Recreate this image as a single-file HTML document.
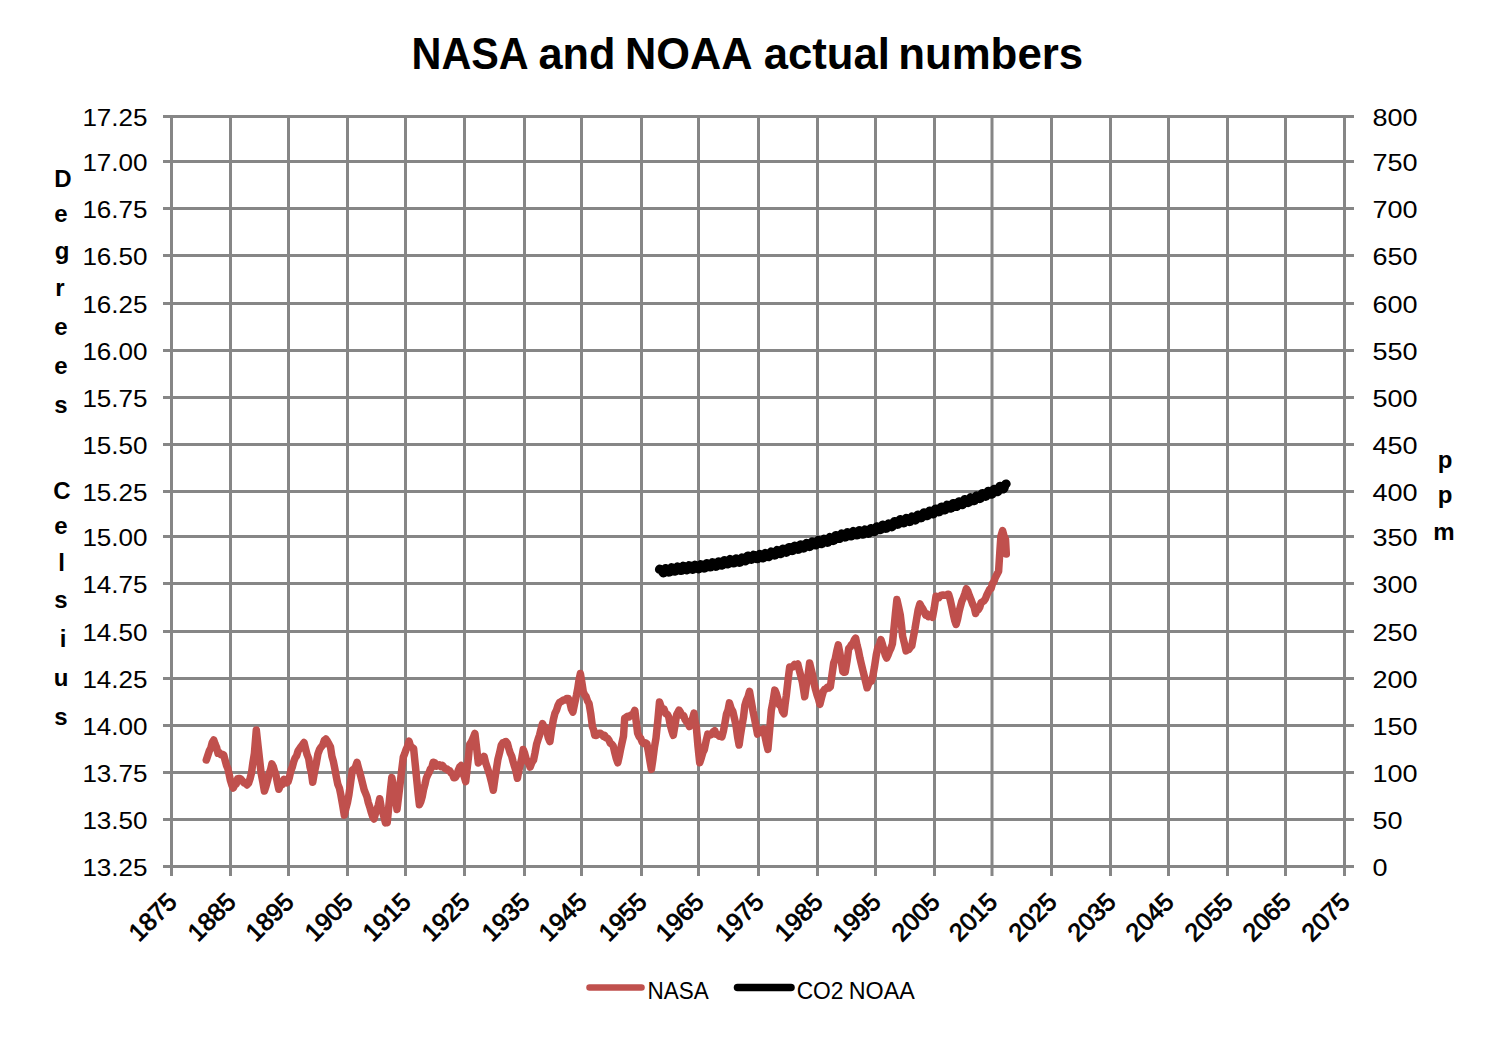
<!DOCTYPE html><html><head><meta charset="utf-8"><style>html,body{margin:0;padding:0;background:#fff;width:1508px;height:1044px;overflow:hidden;position:relative}</style></head><body><svg width="1508" height="1044" viewBox="0 0 1508 1044" style="position:absolute;left:0;top:0"><path d="M163 116.5H1354M163 161.5H1354M163 208.5H1354M163 255.5H1354M163 303.5H1354M163 350.5H1354M163 397.5H1354M163 444.5H1354M163 491.5H1354M163 536.5H1354M163 583.5H1354M163 631.5H1354M163 678.5H1354M163 725.5H1354M163 772.5H1354M163 819.5H1354M163 866.5H1354M171.5 115V876M230.5 115V876M288.5 115V876M347.5 115V876M405.5 115V876M464.5 115V876M524.5 115V876M581.5 115V876M641.5 115V876M698.5 115V876M758.5 115V876M817.5 115V876M875.5 115V876M934.5 115V876M992 115V876M1051.5 115V876M1110.5 115V876M1168.5 115V876M1227.5 115V876M1285.5 115V876M1344.5 115V876" stroke="#868686" stroke-width="3" fill="none"/><text transform="translate(411.51,68.8) scale(0.9177,1)" font-family="Liberation Sans, sans-serif" font-weight="bold" font-size="45.1" fill="#000">NASA</text><text transform="translate(538.40,68.8) scale(0.9594,1)" font-family="Liberation Sans, sans-serif" font-weight="bold" font-size="45.1" fill="#000">and</text><text transform="translate(625.08,68.8) scale(0.9608,1)" font-family="Liberation Sans, sans-serif" font-weight="bold" font-size="45.1" fill="#000">NOAA</text><text transform="translate(763.69,68.8) scale(0.9680,1)" font-family="Liberation Sans, sans-serif" font-weight="bold" font-size="45.1" fill="#000">actual</text><text transform="translate(898.15,68.8) scale(0.9715,1)" font-family="Liberation Sans, sans-serif" font-weight="bold" font-size="45.1" fill="#000">numbers</text><text transform="translate(147.5,125.5) scale(1.05,1)" text-anchor="end" font-family="Liberation Sans, sans-serif" font-size="24.8" fill="#000">17.25</text><text transform="translate(147.5,170.5) scale(1.05,1)" text-anchor="end" font-family="Liberation Sans, sans-serif" font-size="24.8" fill="#000">17.00</text><text transform="translate(147.5,217.5) scale(1.05,1)" text-anchor="end" font-family="Liberation Sans, sans-serif" font-size="24.8" fill="#000">16.75</text><text transform="translate(147.5,264.5) scale(1.05,1)" text-anchor="end" font-family="Liberation Sans, sans-serif" font-size="24.8" fill="#000">16.50</text><text transform="translate(147.5,312.5) scale(1.05,1)" text-anchor="end" font-family="Liberation Sans, sans-serif" font-size="24.8" fill="#000">16.25</text><text transform="translate(147.5,359.5) scale(1.05,1)" text-anchor="end" font-family="Liberation Sans, sans-serif" font-size="24.8" fill="#000">16.00</text><text transform="translate(147.5,406.5) scale(1.05,1)" text-anchor="end" font-family="Liberation Sans, sans-serif" font-size="24.8" fill="#000">15.75</text><text transform="translate(147.5,453.5) scale(1.05,1)" text-anchor="end" font-family="Liberation Sans, sans-serif" font-size="24.8" fill="#000">15.50</text><text transform="translate(147.5,500.5) scale(1.05,1)" text-anchor="end" font-family="Liberation Sans, sans-serif" font-size="24.8" fill="#000">15.25</text><text transform="translate(147.5,545.5) scale(1.05,1)" text-anchor="end" font-family="Liberation Sans, sans-serif" font-size="24.8" fill="#000">15.00</text><text transform="translate(147.5,592.5) scale(1.05,1)" text-anchor="end" font-family="Liberation Sans, sans-serif" font-size="24.8" fill="#000">14.75</text><text transform="translate(147.5,640.5) scale(1.05,1)" text-anchor="end" font-family="Liberation Sans, sans-serif" font-size="24.8" fill="#000">14.50</text><text transform="translate(147.5,687.5) scale(1.05,1)" text-anchor="end" font-family="Liberation Sans, sans-serif" font-size="24.8" fill="#000">14.25</text><text transform="translate(147.5,734.5) scale(1.05,1)" text-anchor="end" font-family="Liberation Sans, sans-serif" font-size="24.8" fill="#000">14.00</text><text transform="translate(147.5,781.5) scale(1.05,1)" text-anchor="end" font-family="Liberation Sans, sans-serif" font-size="24.8" fill="#000">13.75</text><text transform="translate(147.5,828.5) scale(1.05,1)" text-anchor="end" font-family="Liberation Sans, sans-serif" font-size="24.8" fill="#000">13.50</text><text transform="translate(147.5,875.5) scale(1.05,1)" text-anchor="end" font-family="Liberation Sans, sans-serif" font-size="24.8" fill="#000">13.25</text><text transform="translate(1372.5,125.5) scale(1.09,1)" font-family="Liberation Sans, sans-serif" font-size="24.8" fill="#000">800</text><text transform="translate(1372.5,170.5) scale(1.09,1)" font-family="Liberation Sans, sans-serif" font-size="24.8" fill="#000">750</text><text transform="translate(1372.5,217.5) scale(1.09,1)" font-family="Liberation Sans, sans-serif" font-size="24.8" fill="#000">700</text><text transform="translate(1372.5,264.5) scale(1.09,1)" font-family="Liberation Sans, sans-serif" font-size="24.8" fill="#000">650</text><text transform="translate(1372.5,312.5) scale(1.09,1)" font-family="Liberation Sans, sans-serif" font-size="24.8" fill="#000">600</text><text transform="translate(1372.5,359.5) scale(1.09,1)" font-family="Liberation Sans, sans-serif" font-size="24.8" fill="#000">550</text><text transform="translate(1372.5,406.5) scale(1.09,1)" font-family="Liberation Sans, sans-serif" font-size="24.8" fill="#000">500</text><text transform="translate(1372.5,453.5) scale(1.09,1)" font-family="Liberation Sans, sans-serif" font-size="24.8" fill="#000">450</text><text transform="translate(1372.5,500.5) scale(1.09,1)" font-family="Liberation Sans, sans-serif" font-size="24.8" fill="#000">400</text><text transform="translate(1372.5,545.5) scale(1.09,1)" font-family="Liberation Sans, sans-serif" font-size="24.8" fill="#000">350</text><text transform="translate(1372.5,592.5) scale(1.09,1)" font-family="Liberation Sans, sans-serif" font-size="24.8" fill="#000">300</text><text transform="translate(1372.5,640.5) scale(1.09,1)" font-family="Liberation Sans, sans-serif" font-size="24.8" fill="#000">250</text><text transform="translate(1372.5,687.5) scale(1.09,1)" font-family="Liberation Sans, sans-serif" font-size="24.8" fill="#000">200</text><text transform="translate(1372.5,734.5) scale(1.09,1)" font-family="Liberation Sans, sans-serif" font-size="24.8" fill="#000">150</text><text transform="translate(1372.5,781.5) scale(1.09,1)" font-family="Liberation Sans, sans-serif" font-size="24.8" fill="#000">100</text><text transform="translate(1372.5,828.5) scale(1.09,1)" font-family="Liberation Sans, sans-serif" font-size="24.8" fill="#000">50</text><text transform="translate(1372.5,875.5) scale(1.09,1)" font-family="Liberation Sans, sans-serif" font-size="24.8" fill="#000">0</text><text transform="translate(178.4,903.3) rotate(-45)" x="0" y="0" text-anchor="end" font-family="Liberation Sans, sans-serif" font-size="25.0" fill="#000" stroke="#000" stroke-width="0.8">1875</text><text transform="translate(237.4,903.3) rotate(-45)" x="0" y="0" text-anchor="end" font-family="Liberation Sans, sans-serif" font-size="25.0" fill="#000" stroke="#000" stroke-width="0.8">1885</text><text transform="translate(295.4,903.3) rotate(-45)" x="0" y="0" text-anchor="end" font-family="Liberation Sans, sans-serif" font-size="25.0" fill="#000" stroke="#000" stroke-width="0.8">1895</text><text transform="translate(354.4,903.3) rotate(-45)" x="0" y="0" text-anchor="end" font-family="Liberation Sans, sans-serif" font-size="25.0" fill="#000" stroke="#000" stroke-width="0.8">1905</text><text transform="translate(412.4,903.3) rotate(-45)" x="0" y="0" text-anchor="end" font-family="Liberation Sans, sans-serif" font-size="25.0" fill="#000" stroke="#000" stroke-width="0.8">1915</text><text transform="translate(471.4,903.3) rotate(-45)" x="0" y="0" text-anchor="end" font-family="Liberation Sans, sans-serif" font-size="25.0" fill="#000" stroke="#000" stroke-width="0.8">1925</text><text transform="translate(531.4,903.3) rotate(-45)" x="0" y="0" text-anchor="end" font-family="Liberation Sans, sans-serif" font-size="25.0" fill="#000" stroke="#000" stroke-width="0.8">1935</text><text transform="translate(588.4,903.3) rotate(-45)" x="0" y="0" text-anchor="end" font-family="Liberation Sans, sans-serif" font-size="25.0" fill="#000" stroke="#000" stroke-width="0.8">1945</text><text transform="translate(648.4,903.3) rotate(-45)" x="0" y="0" text-anchor="end" font-family="Liberation Sans, sans-serif" font-size="25.0" fill="#000" stroke="#000" stroke-width="0.8">1955</text><text transform="translate(705.4,903.3) rotate(-45)" x="0" y="0" text-anchor="end" font-family="Liberation Sans, sans-serif" font-size="25.0" fill="#000" stroke="#000" stroke-width="0.8">1965</text><text transform="translate(765.4,903.3) rotate(-45)" x="0" y="0" text-anchor="end" font-family="Liberation Sans, sans-serif" font-size="25.0" fill="#000" stroke="#000" stroke-width="0.8">1975</text><text transform="translate(824.4,903.3) rotate(-45)" x="0" y="0" text-anchor="end" font-family="Liberation Sans, sans-serif" font-size="25.0" fill="#000" stroke="#000" stroke-width="0.8">1985</text><text transform="translate(882.4,903.3) rotate(-45)" x="0" y="0" text-anchor="end" font-family="Liberation Sans, sans-serif" font-size="25.0" fill="#000" stroke="#000" stroke-width="0.8">1995</text><text transform="translate(941.4,903.3) rotate(-45)" x="0" y="0" text-anchor="end" font-family="Liberation Sans, sans-serif" font-size="25.0" fill="#000" stroke="#000" stroke-width="0.8">2005</text><text transform="translate(998.9,903.3) rotate(-45)" x="0" y="0" text-anchor="end" font-family="Liberation Sans, sans-serif" font-size="25.0" fill="#000" stroke="#000" stroke-width="0.8">2015</text><text transform="translate(1058.4,903.3) rotate(-45)" x="0" y="0" text-anchor="end" font-family="Liberation Sans, sans-serif" font-size="25.0" fill="#000" stroke="#000" stroke-width="0.8">2025</text><text transform="translate(1117.4,903.3) rotate(-45)" x="0" y="0" text-anchor="end" font-family="Liberation Sans, sans-serif" font-size="25.0" fill="#000" stroke="#000" stroke-width="0.8">2035</text><text transform="translate(1175.4,903.3) rotate(-45)" x="0" y="0" text-anchor="end" font-family="Liberation Sans, sans-serif" font-size="25.0" fill="#000" stroke="#000" stroke-width="0.8">2045</text><text transform="translate(1234.4,903.3) rotate(-45)" x="0" y="0" text-anchor="end" font-family="Liberation Sans, sans-serif" font-size="25.0" fill="#000" stroke="#000" stroke-width="0.8">2055</text><text transform="translate(1292.4,903.3) rotate(-45)" x="0" y="0" text-anchor="end" font-family="Liberation Sans, sans-serif" font-size="25.0" fill="#000" stroke="#000" stroke-width="0.8">2065</text><text transform="translate(1351.4,903.3) rotate(-45)" x="0" y="0" text-anchor="end" font-family="Liberation Sans, sans-serif" font-size="25.0" fill="#000" stroke="#000" stroke-width="0.8">2075</text><text x="63" y="186.8" text-anchor="middle" font-family="Liberation Sans, sans-serif" font-weight="bold" font-size="24" fill="#000">D</text><text x="61" y="221.6" text-anchor="middle" font-family="Liberation Sans, sans-serif" font-weight="bold" font-size="24" fill="#000">e</text><text x="62" y="258.5" text-anchor="middle" font-family="Liberation Sans, sans-serif" font-weight="bold" font-size="24" fill="#000">g</text><text x="60" y="295.8" text-anchor="middle" font-family="Liberation Sans, sans-serif" font-weight="bold" font-size="24" fill="#000">r</text><text x="61" y="334.7" text-anchor="middle" font-family="Liberation Sans, sans-serif" font-weight="bold" font-size="24" fill="#000">e</text><text x="61" y="373.9" text-anchor="middle" font-family="Liberation Sans, sans-serif" font-weight="bold" font-size="24" fill="#000">e</text><text x="61" y="413.2" text-anchor="middle" font-family="Liberation Sans, sans-serif" font-weight="bold" font-size="24" fill="#000">s</text><text x="62" y="498.9" text-anchor="middle" font-family="Liberation Sans, sans-serif" font-weight="bold" font-size="24" fill="#000">C</text><text x="61" y="533.9" text-anchor="middle" font-family="Liberation Sans, sans-serif" font-weight="bold" font-size="24" fill="#000">e</text><text x="61.5" y="570.7" text-anchor="middle" font-family="Liberation Sans, sans-serif" font-weight="bold" font-size="24" fill="#000">l</text><text x="61" y="608.2" text-anchor="middle" font-family="Liberation Sans, sans-serif" font-weight="bold" font-size="24" fill="#000">s</text><text x="63" y="646.7" text-anchor="middle" font-family="Liberation Sans, sans-serif" font-weight="bold" font-size="24" fill="#000">i</text><text x="61" y="685.6" text-anchor="middle" font-family="Liberation Sans, sans-serif" font-weight="bold" font-size="24" fill="#000">u</text><text x="61" y="725.2" text-anchor="middle" font-family="Liberation Sans, sans-serif" font-weight="bold" font-size="24" fill="#000">s</text><text x="1445" y="468.3" text-anchor="middle" font-family="Liberation Sans, sans-serif" font-weight="bold" font-size="24" fill="#000">p</text><text x="1445" y="503" text-anchor="middle" font-family="Liberation Sans, sans-serif" font-weight="bold" font-size="24" fill="#000">p</text><text x="1444" y="540.2" text-anchor="middle" font-family="Liberation Sans, sans-serif" font-weight="bold" font-size="24" fill="#000">m</text><path d="M589.5 987.5H641.5" stroke="#C0504D" stroke-width="6.5" stroke-linecap="round"/><path d="M737.5 987.5H791" stroke="#000" stroke-width="7.5" stroke-linecap="round"/><text transform="translate(647.44,998.6) scale(0.9463,1)" font-family="Liberation Sans, sans-serif" font-size="23.8" fill="#000">NASA</text><text transform="translate(796.66,998.6) scale(0.9585,1)" font-family="Liberation Sans, sans-serif" font-size="23.8" fill="#000">CO2</text><text transform="translate(848.78,998.6) scale(0.9794,1)" font-family="Liberation Sans, sans-serif" font-size="23.8" fill="#000">NOAA</text><path d="M206.3 760.0 L207.8 755.5 L209.3 750.9 L210.7 748.4 L212.2 742.6 L213.7 740.0 L215.1 744.0 L216.6 747.5 L218.0 753.3 L219.4 752.6 L220.8 754.6 L222.3 754.2 L223.7 755.0 L225.1 760.3 L226.6 765.8 L227.9 768.7 L229.1 774.1 L230.4 780.4 L231.9 785.2 L233.3 788.0 L234.7 784.9 L236.2 784.0 L237.6 778.6 L239.0 778.4 L240.6 778.9 L242.3 780.7 L243.9 782.9 L245.5 783.4 L247.0 784.9 L248.6 783.0 L250.1 778.5 L251.5 772.9 L252.9 762.5 L254.4 753.4 L256.3 730.0 L258.2 747.2 L259.6 759.6 L261.1 773.0 L262.8 781.8 L264.4 791.0 L266.1 785.8 L267.9 779.3 L269.2 773.4 L270.6 769.5 L271.9 763.9 L273.2 766.4 L274.6 771.2 L275.9 774.9 L277.4 782.8 L278.8 789.3 L280.5 785.3 L282.3 784.6 L284.0 779.4 L285.3 781.0 L286.7 782.8 L288.0 781.8 L289.4 777.3 L290.9 770.5 L292.3 767.0 L293.7 761.8 L295.1 758.0 L296.6 755.8 L298.1 750.9 L299.5 748.9 L301.0 746.7 L302.5 744.7 L304.0 742.5 L305.6 749.0 L307.1 754.7 L308.7 758.6 L310.0 766.9 L311.4 772.7 L312.7 782.3 L314.4 772.6 L316.2 764.0 L317.9 754.0 L319.5 749.6 L321.1 747.1 L322.7 745.2 L324.3 740.4 L325.9 739.0 L327.4 741.2 L329.0 744.1 L330.5 747.0 L331.9 756.3 L333.4 761.6 L334.9 769.1 L336.3 776.8 L337.8 784.3 L339.4 788.1 L340.9 795.3 L342.6 804.8 L344.3 815.1 L345.8 808.7 L347.4 802.7 L348.9 794.8 L350.6 782.6 L352.4 769.8 L353.9 769.1 L355.5 767.0 L357.0 762.3 L358.4 767.6 L359.9 773.1 L361.3 778.3 L362.8 784.4 L364.2 790.0 L365.6 793.4 L367.0 797.0 L368.3 802.6 L369.7 806.8 L371.1 811.8 L372.6 816.4 L374.0 819.0 L375.4 813.8 L376.9 809.6 L378.3 805.1 L379.7 798.7 L381.1 806.7 L382.6 811.8 L384.1 817.6 L385.5 822.9 L387.2 822.7 L388.7 807.4 L390.3 791.1 L391.8 777.4 L393.5 786.8 L395.3 798.0 L397.0 809.5 L398.6 796.5 L400.1 784.1 L401.7 770.3 L403.3 757.2 L404.7 753.6 L406.1 749.5 L407.6 746.2 L409.0 741.2 L410.5 746.0 L412.1 747.5 L413.6 748.4 L415.4 766.0 L417.1 783.5 L418.2 794.5 L419.4 804.7 L420.8 801.6 L422.2 796.7 L423.5 789.9 L424.9 784.6 L426.3 778.2 L427.7 775.0 L429.1 772.5 L430.4 769.0 L431.8 767.5 L433.2 762.3 L434.7 762.6 L436.3 766.2 L437.8 765.7 L439.3 764.9 L440.9 766.5 L442.4 765.4 L443.9 767.3 L445.5 769.0 L447.0 769.1 L448.4 770.4 L449.8 770.9 L451.1 773.0 L452.5 774.2 L453.9 777.8 L455.3 777.5 L456.8 775.1 L458.2 770.5 L459.7 767.0 L461.1 765.6 L462.6 771.5 L464.2 776.5 L465.7 781.7 L467.0 769.9 L468.4 757.8 L469.7 744.4 L471.4 741.8 L473.2 737.8 L474.9 733.4 L476.6 747.8 L478.3 762.9 L479.8 761.2 L481.2 760.7 L482.7 759.8 L484.1 756.5 L485.6 762.6 L487.2 767.4 L488.7 771.9 L490.2 777.0 L491.8 783.4 L493.3 790.3 L494.8 779.5 L496.4 768.8 L497.9 759.4 L499.6 752.7 L501.3 745.0 L502.8 742.8 L504.4 742.2 L505.9 741.5 L507.3 743.1 L508.8 748.5 L510.2 753.0 L511.7 756.3 L513.1 761.7 L514.5 766.4 L516.0 771.0 L517.4 778.3 L518.9 770.0 L520.3 764.5 L521.8 758.1 L523.2 749.5 L524.6 753.2 L526.0 758.5 L527.3 761.5 L528.7 763.5 L530.1 767.1 L531.8 762.6 L533.5 760.2 L535.0 753.0 L536.6 744.1 L538.1 739.3 L539.6 735.0 L541.0 729.2 L542.5 723.6 L543.8 726.4 L545.2 727.5 L546.5 729.4 L548.2 737.5 L549.9 741.6 L551.6 729.8 L553.4 719.5 L554.9 713.4 L556.5 710.1 L558.0 705.4 L559.4 702.6 L560.8 701.8 L562.1 701.0 L563.5 699.9 L564.9 700.1 L566.6 698.5 L568.3 698.5 L569.8 702.2 L571.4 709.1 L572.9 712.1 L574.6 703.7 L576.4 695.5 L577.7 688.7 L579.1 679.6 L580.4 673.5 L581.8 682.0 L583.3 691.9 L584.7 695.0 L586.1 696.7 L587.6 701.1 L589.0 703.4 L590.8 713.9 L592.5 727.2 L593.6 729.9 L594.8 735.4 L596.2 735.6 L597.6 734.5 L599.1 733.3 L600.5 733.3 L601.9 734.5 L603.3 736.3 L604.6 735.4 L606.0 737.9 L607.4 738.1 L608.9 740.0 L610.3 743.2 L611.8 744.1 L613.2 746.0 L614.7 752.3 L616.3 758.5 L617.8 762.8 L619.2 756.5 L620.6 749.3 L622.1 742.4 L623.5 736.1 L624.7 718.1 L626.1 717.4 L627.5 716.4 L629.0 717.0 L630.4 715.4 L631.9 714.7 L633.3 713.6 L634.8 710.3 L636.2 721.5 L637.6 733.0 L639.1 736.6 L640.7 738.3 L642.2 742.1 L643.7 743.4 L645.3 742.7 L646.8 743.6 L648.3 751.2 L649.9 761.0 L651.4 769.4 L652.9 759.4 L654.5 746.8 L656.0 738.1 L657.8 720.7 L659.5 701.9 L661.0 706.4 L662.6 709.0 L664.1 709.1 L665.6 713.6 L667.2 714.2 L668.7 716.8 L670.2 724.8 L671.8 730.8 L673.3 735.3 L675.0 725.2 L676.7 714.5 L677.9 712.3 L679.0 710.1 L680.5 712.4 L682.1 715.5 L683.6 715.4 L685.0 719.5 L686.5 721.8 L688.0 723.1 L689.4 726.6 L690.9 723.3 L692.5 718.7 L694.0 713.2 L695.1 721.7 L696.3 726.9 L698.0 746.4 L699.7 762.7 L701.2 758.2 L702.8 752.6 L704.3 749.8 L706.0 741.4 L707.8 734.1 L709.2 734.3 L710.6 735.0 L711.9 734.1 L713.3 731.7 L714.7 730.6 L716.1 734.3 L717.6 734.5 L719.0 736.2 L720.5 735.7 L721.9 736.9 L723.4 731.1 L725.0 722.6 L726.5 713.9 L728.0 710.2 L729.4 702.9 L731.1 708.4 L732.8 711.3 L734.5 718.6 L736.0 725.4 L737.6 737.0 L739.1 745.0 L740.5 734.8 L742.0 725.7 L743.5 717.1 L744.9 705.3 L746.4 700.3 L748.0 696.9 L749.5 691.4 L751.2 700.8 L752.9 710.7 L754.4 718.0 L756.0 726.1 L757.5 734.1 L759.0 732.7 L760.4 732.6 L761.8 729.8 L763.3 729.0 L764.8 735.3 L766.4 743.1 L767.9 749.4 L769.6 730.5 L771.3 710.2 L773.0 701.5 L774.8 690.1 L776.3 693.6 L777.9 699.0 L779.4 705.0 L780.9 706.0 L782.5 711.5 L784.0 713.8 L785.1 704.2 L786.3 695.5 L788.0 680.4 L789.7 666.9 L791.3 666.8 L792.9 666.9 L794.6 664.3 L796.2 665.1 L797.8 664.0 L799.3 670.3 L800.9 676.2 L802.4 682.5 L803.5 689.1 L804.7 696.8 L806.3 685.2 L808.0 675.8 L809.6 663.0 L811.1 669.2 L812.7 675.5 L814.2 684.2 L815.6 689.8 L817.0 694.7 L818.5 699.0 L819.9 704.3 L821.6 697.6 L823.4 691.2 L824.8 689.1 L826.2 688.8 L827.5 687.1 L828.9 688.0 L830.3 686.9 L832.0 674.7 L833.7 662.9 L835.2 659.0 L836.8 650.9 L838.3 644.9 L839.8 652.6 L841.4 662.5 L842.9 671.6 L844.0 672.3 L845.2 672.0 L847.0 661.4 L848.7 648.4 L850.1 647.1 L851.5 644.5 L852.8 643.4 L854.2 640.2 L855.6 638.1 L857.0 645.0 L858.5 650.8 L859.9 657.9 L861.3 663.8 L862.8 670.2 L864.2 675.7 L865.6 681.6 L867.1 687.8 L868.5 684.1 L870.0 681.6 L871.4 681.3 L872.8 676.4 L874.5 666.7 L876.3 654.9 L877.8 647.8 L879.4 644.8 L880.9 639.6 L882.3 644.0 L883.8 649.5 L885.2 654.9 L886.6 658.0 L888.0 655.1 L889.5 651.1 L891.0 648.0 L892.4 643.9 L893.9 629.1 L895.4 613.5 L896.9 599.6 L898.6 607.0 L900.3 615.1 L901.5 625.2 L902.6 636.1 L904.4 643.3 L906.1 650.9 L907.5 648.7 L909.0 649.4 L910.4 647.1 L911.8 645.9 L913.3 637.4 L914.9 629.2 L916.4 620.2 L918.1 610.1 L919.9 603.9 L921.3 606.6 L922.8 608.8 L924.2 611.7 L925.6 615.0 L927.0 613.9 L928.4 616.6 L929.7 615.8 L931.1 615.9 L932.5 617.2 L934.2 608.2 L936.0 596.3 L937.4 597.5 L938.8 597.7 L940.1 595.9 L941.5 595.1 L942.9 594.9 L944.3 595.3 L945.8 595.2 L947.2 594.5 L948.6 594.2 L950.1 599.4 L951.7 606.5 L953.2 613.8 L954.7 620.5 L956.1 624.4 L957.5 619.5 L959.0 612.0 L960.4 606.4 L961.8 601.3 L963.3 597.9 L964.9 593.4 L966.4 588.7 L967.9 591.4 L969.5 595.9 L971.0 599.6 L972.5 603.8 L974.1 607.0 L975.6 613.5 L977.0 609.3 L978.4 609.6 L979.7 607.4 L981.1 602.6 L982.5 601.9 L984.0 600.7 L985.4 598.8 L986.8 594.9 L988.3 592.1 L989.7 589.2 L991.1 588.6 L992.4 583.7 L993.8 582.0 L995.2 577.9 L996.9 574.5 L998.6 571.2 L999.8 552.6 L1000.9 536.3 L1002.6 530.7 L1004.0 535.9 L1005.5 539.3 L1006.3 554.0" stroke="#C0504D" stroke-width="7.5" fill="none" stroke-linejoin="round" stroke-linecap="round"/><path d="M659.3 569.4 L659.8 568.9 L660.2 569.1 L660.7 569.8 L661.2 570.3 L661.7 570.8 L662.2 571.4 L662.7 572.3 L663.2 573.0 L663.7 573.0 L664.2 571.9 L664.6 570.3 L665.1 568.9 L665.6 568.4 L666.1 568.5 L666.6 569.1 L667.1 569.6 L667.6 570.0 L668.1 570.7 L668.6 571.6 L669.0 572.3 L669.5 572.2 L670.0 571.1 L670.5 569.5 L671.0 568.1 L671.5 567.5 L672.0 567.7 L672.5 568.2 L673.0 568.7 L673.5 569.2 L673.9 569.8 L674.4 570.7 L674.9 571.4 L675.4 571.4 L675.9 570.4 L676.4 568.7 L676.9 567.4 L677.4 566.8 L677.8 567.0 L678.3 567.5 L678.8 568.0 L679.3 568.5 L679.8 569.1 L680.3 570.0 L680.8 570.7 L681.3 570.7 L681.8 569.6 L682.2 568.0 L682.7 566.6 L683.2 566.0 L683.7 566.2 L684.2 566.8 L684.7 567.3 L685.2 567.7 L685.7 568.4 L686.1 569.3 L686.6 570.1 L687.1 570.0 L687.6 569.0 L688.1 567.4 L688.6 566.0 L689.1 565.5 L689.6 565.7 L690.1 566.2 L690.5 566.8 L691.0 567.2 L691.5 567.9 L692.0 568.8 L692.5 569.5 L693.0 569.5 L693.5 568.5 L694.0 566.9 L694.5 565.5 L695.0 564.9 L695.4 565.1 L695.9 565.6 L696.4 566.2 L696.9 566.7 L697.4 567.4 L697.9 568.3 L698.4 569.0 L698.9 569.0 L699.4 568.0 L699.8 566.4 L700.3 565.0 L700.8 564.5 L701.3 564.7 L701.8 565.2 L702.3 565.8 L702.8 566.2 L703.3 566.8 L703.8 567.7 L704.2 568.3 L704.7 568.2 L705.2 567.1 L705.7 565.5 L706.2 564.0 L706.7 563.4 L707.2 563.6 L707.7 564.1 L708.1 564.5 L708.6 565.0 L709.1 565.6 L709.6 566.5 L710.1 567.2 L710.6 567.2 L711.1 566.1 L711.6 564.5 L712.1 563.1 L712.5 562.5 L713.0 562.7 L713.5 563.3 L714.0 563.8 L714.5 564.2 L715.0 564.9 L715.5 565.8 L716.0 566.5 L716.5 566.4 L717.0 565.4 L717.4 563.7 L717.9 562.3 L718.4 561.7 L718.9 561.9 L719.4 562.5 L719.9 563.0 L720.4 563.4 L720.9 564.0 L721.3 564.8 L721.8 565.4 L722.3 565.3 L722.8 564.2 L723.3 562.5 L723.8 561.1 L724.3 560.4 L724.8 560.6 L725.2 561.0 L725.7 561.5 L726.2 561.9 L726.7 562.6 L727.2 563.4 L727.7 564.1 L728.2 564.0 L728.7 563.0 L729.2 561.3 L729.6 559.9 L730.1 559.3 L730.6 559.5 L731.1 560.0 L731.6 560.5 L732.1 561.0 L732.6 561.6 L733.1 562.5 L733.6 563.2 L734.0 563.2 L734.5 562.2 L735.0 560.6 L735.5 559.2 L736.0 558.6 L736.5 558.8 L737.0 559.4 L737.5 559.9 L738.0 560.3 L738.5 561.0 L738.9 561.8 L739.4 562.5 L739.9 562.4 L740.4 561.3 L740.9 559.7 L741.4 558.3 L741.9 557.7 L742.4 557.8 L742.9 558.4 L743.3 558.8 L743.8 559.2 L744.3 559.7 L744.8 560.5 L745.3 561.1 L745.8 560.9 L746.3 559.8 L746.8 558.0 L747.2 556.5 L747.7 555.8 L748.2 555.9 L748.7 556.4 L749.2 556.7 L749.7 557.2 L750.2 557.9 L750.7 558.8 L751.2 559.5 L751.6 559.5 L752.1 558.5 L752.6 556.9 L753.1 555.5 L753.6 555.0 L754.1 555.2 L754.6 555.7 L755.1 556.3 L755.6 556.7 L756.0 557.4 L756.5 558.2 L757.0 558.9 L757.5 558.9 L758.0 557.8 L758.5 556.2 L759.0 554.8 L759.5 554.2 L760.0 554.4 L760.4 554.9 L760.9 555.4 L761.4 555.9 L761.9 556.5 L762.4 557.4 L762.9 558.1 L763.4 558.0 L763.9 557.0 L764.4 555.3 L764.8 553.9 L765.3 553.3 L765.8 553.5 L766.3 554.0 L766.8 554.5 L767.3 554.9 L767.8 555.5 L768.3 556.3 L768.8 556.9 L769.2 556.8 L769.7 555.7 L770.2 554.0 L770.7 552.5 L771.2 551.8 L771.7 552.0 L772.2 552.4 L772.7 552.8 L773.1 553.2 L773.6 553.8 L774.1 554.7 L774.6 555.3 L775.1 555.2 L775.6 554.1 L776.1 552.4 L776.6 551.0 L777.1 550.3 L777.5 550.5 L778.0 550.9 L778.5 551.4 L779.0 551.8 L779.5 552.4 L780.0 553.2 L780.5 553.9 L781.0 553.8 L781.5 552.7 L782.0 551.0 L782.4 549.6 L782.9 548.9 L783.4 549.1 L783.9 549.6 L784.4 550.0 L784.9 550.4 L785.4 551.0 L785.9 551.8 L786.4 552.4 L786.8 552.2 L787.3 551.1 L787.8 549.4 L788.3 547.9 L788.8 547.3 L789.3 547.4 L789.8 547.8 L790.3 548.2 L790.8 548.6 L791.2 549.3 L791.7 550.1 L792.2 550.8 L792.7 550.7 L793.2 549.6 L793.7 547.9 L794.2 546.5 L794.7 545.9 L795.1 546.0 L795.6 546.5 L796.1 547.0 L796.6 547.4 L797.1 548.0 L797.6 548.8 L798.1 549.5 L798.6 549.4 L799.1 548.3 L799.5 546.7 L800.0 545.2 L800.5 544.6 L801.0 544.8 L801.5 545.2 L802.0 545.7 L802.5 546.1 L803.0 546.7 L803.5 547.5 L803.9 548.2 L804.4 548.0 L804.9 546.9 L805.4 545.3 L805.9 543.8 L806.4 543.2 L806.9 543.3 L807.4 543.8 L807.9 544.2 L808.3 544.6 L808.8 545.2 L809.3 546.0 L809.8 546.7 L810.3 546.5 L810.8 545.4 L811.3 543.8 L811.8 542.3 L812.2 541.7 L812.7 541.8 L813.2 542.3 L813.7 542.7 L814.2 543.1 L814.7 543.7 L815.2 544.5 L815.7 545.2 L816.2 545.1 L816.6 544.0 L817.1 542.3 L817.6 540.9 L818.1 540.2 L818.6 540.4 L819.1 540.9 L819.6 541.3 L820.1 541.7 L820.6 542.4 L821.0 543.2 L821.5 543.9 L822.0 543.8 L822.5 542.7 L823.0 541.0 L823.5 539.6 L824.0 539.0 L824.5 539.1 L825.0 539.6 L825.5 540.1 L825.9 540.5 L826.4 541.1 L826.9 541.9 L827.4 542.5 L827.9 542.4 L828.4 541.3 L828.9 539.6 L829.4 538.1 L829.9 537.4 L830.3 537.6 L830.8 538.0 L831.3 538.4 L831.8 538.8 L832.3 539.3 L832.8 540.1 L833.3 540.7 L833.8 540.5 L834.2 539.3 L834.7 537.6 L835.2 536.1 L835.7 535.4 L836.2 535.4 L836.7 535.8 L837.2 536.2 L837.7 536.6 L838.2 537.2 L838.6 538.0 L839.1 538.7 L839.6 538.6 L840.1 537.5 L840.6 535.8 L841.1 534.4 L841.6 533.7 L842.1 533.8 L842.5 534.3 L843.0 534.8 L843.5 535.2 L844.0 535.8 L844.5 536.7 L845.0 537.3 L845.5 537.2 L846.0 536.1 L846.5 534.5 L847.0 533.1 L847.4 532.5 L847.9 532.6 L848.4 533.1 L848.9 533.6 L849.4 534.0 L849.9 534.6 L850.4 535.5 L850.9 536.1 L851.4 536.1 L851.8 535.0 L852.3 533.3 L852.8 531.9 L853.3 531.3 L853.8 531.5 L854.3 532.0 L854.8 532.4 L855.3 532.9 L855.8 533.5 L856.2 534.4 L856.7 535.1 L857.2 535.1 L857.7 534.0 L858.2 532.4 L858.7 531.0 L859.2 530.4 L859.7 530.6 L860.1 531.1 L860.6 531.6 L861.1 532.1 L861.6 532.8 L862.1 533.7 L862.6 534.4 L863.1 534.4 L863.6 533.3 L864.1 531.7 L864.5 530.3 L865.0 529.8 L865.5 530.0 L866.0 530.5 L866.5 531.0 L867.0 531.4 L867.5 532.0 L868.0 532.8 L868.5 533.5 L869.0 533.3 L869.4 532.2 L869.9 530.5 L870.4 529.1 L870.9 528.4 L871.4 528.5 L871.9 529.0 L872.4 529.4 L872.9 529.8 L873.4 530.3 L873.8 531.1 L874.3 531.8 L874.8 531.6 L875.3 530.5 L875.8 528.8 L876.3 527.3 L876.8 526.6 L877.2 526.7 L877.7 527.1 L878.2 527.5 L878.7 527.9 L879.2 528.5 L879.7 529.3 L880.2 529.9 L880.7 529.8 L881.2 528.7 L881.6 527.0 L882.1 525.5 L882.6 524.9 L883.1 525.0 L883.6 525.4 L884.1 525.9 L884.6 526.3 L885.1 526.9 L885.6 527.8 L886.0 528.5 L886.5 528.4 L887.0 527.3 L887.5 525.7 L888.0 524.3 L888.5 523.7 L889.0 523.8 L889.5 524.3 L890.0 524.8 L890.5 525.1 L890.9 525.6 L891.4 526.3 L891.9 526.9 L892.4 526.6 L892.9 525.4 L893.4 523.6 L893.9 522.1 L894.4 521.3 L894.9 521.3 L895.3 521.7 L895.8 522.0 L896.3 522.4 L896.8 523.0 L897.3 523.8 L897.8 524.5 L898.3 524.3 L898.8 523.2 L899.2 521.5 L899.7 520.1 L900.2 519.4 L900.7 519.5 L901.2 520.0 L901.7 520.5 L902.2 520.9 L902.7 521.5 L903.2 522.4 L903.6 523.0 L904.1 523.0 L904.6 521.9 L905.1 520.2 L905.6 518.8 L906.1 518.2 L906.6 518.4 L907.1 518.9 L907.6 519.4 L908.0 519.8 L908.5 520.4 L909.0 521.2 L909.5 521.8 L910.0 521.7 L910.5 520.6 L911.0 518.9 L911.5 517.5 L912.0 516.8 L912.4 517.0 L912.9 517.4 L913.4 517.9 L913.9 518.2 L914.4 518.8 L914.9 519.6 L915.4 520.2 L915.9 520.0 L916.4 518.9 L916.8 517.1 L917.3 515.6 L917.8 514.9 L918.3 515.0 L918.8 515.5 L919.3 515.9 L919.8 516.2 L920.3 516.7 L920.8 517.5 L921.2 518.0 L921.7 517.8 L922.2 516.7 L922.7 514.9 L923.2 513.4 L923.7 512.7 L924.2 512.7 L924.7 513.1 L925.1 513.5 L925.6 513.9 L926.1 514.5 L926.6 515.3 L927.1 515.9 L927.6 515.8 L928.1 514.7 L928.6 513.0 L929.1 511.5 L929.5 510.9 L930.0 511.0 L930.5 511.5 L931.0 511.9 L931.5 512.2 L932.0 512.8 L932.5 513.5 L933.0 514.1 L933.5 514.0 L934.0 512.8 L934.4 511.1 L934.9 509.6 L935.4 508.9 L935.9 508.9 L936.4 509.4 L936.9 509.8 L937.4 510.1 L937.9 510.7 L938.4 511.4 L938.8 512.0 L939.3 511.9 L939.8 510.8 L940.3 509.0 L940.8 507.5 L941.3 506.9 L941.8 506.9 L942.3 507.4 L942.8 507.8 L943.2 508.1 L943.7 508.7 L944.2 509.5 L944.7 510.1 L945.2 510.0 L945.7 508.9 L946.2 507.2 L946.7 505.7 L947.1 505.0 L947.6 505.1 L948.1 505.6 L948.6 506.0 L949.1 506.4 L949.6 507.0 L950.1 507.8 L950.6 508.4 L951.1 508.3 L951.5 507.1 L952.0 505.4 L952.5 504.0 L953.0 503.3 L953.5 503.4 L954.0 503.9 L954.5 504.3 L955.0 504.7 L955.5 505.3 L955.9 506.1 L956.4 506.7 L956.9 506.6 L957.4 505.4 L957.9 503.8 L958.4 502.3 L958.9 501.6 L959.4 501.7 L959.9 502.2 L960.3 502.6 L960.8 502.9 L961.3 503.4 L961.8 504.2 L962.3 504.8 L962.8 504.6 L963.3 503.4 L963.8 501.7 L964.2 500.2 L964.7 499.4 L965.2 499.5 L965.7 499.9 L966.2 500.3 L966.7 500.7 L967.2 501.2 L967.7 502.1 L968.2 502.7 L968.6 502.6 L969.1 501.4 L969.6 499.8 L970.1 498.3 L970.6 497.6 L971.1 497.8 L971.6 498.2 L972.1 498.6 L972.6 499.0 L973.0 499.5 L973.5 500.3 L974.0 500.9 L974.5 500.8 L975.0 499.6 L975.5 497.9 L976.0 496.4 L976.5 495.7 L977.0 495.8 L977.5 496.2 L977.9 496.6 L978.4 496.9 L978.9 497.4 L979.4 498.1 L979.9 498.7 L980.4 498.5 L980.9 497.3 L981.4 495.6 L981.9 494.0 L982.3 493.3 L982.8 493.3 L983.3 493.7 L983.8 494.1 L984.3 494.4 L984.8 495.0 L985.3 495.8 L985.8 496.4 L986.2 496.2 L986.7 495.1 L987.2 493.3 L987.7 491.9 L988.2 491.1 L988.7 491.2 L989.2 491.7 L989.7 492.1 L990.2 492.4 L990.6 493.0 L991.1 493.8 L991.6 494.4 L992.1 494.2 L992.6 493.0 L993.1 491.3 L993.6 489.8 L994.1 489.1 L994.5 489.2 L995.0 489.6 L995.5 490.0 L996.0 490.3 L996.5 490.7 L997.0 491.4 L997.5 491.9 L998.0 491.7 L998.5 490.4 L999.0 488.6 L999.4 487.0 L999.9 486.2 L1000.4 486.2 L1000.9 486.5 L1001.4 486.8 L1001.9 487.2 L1002.4 487.7 L1002.9 488.5 L1003.4 489.1 L1003.8 488.9 L1004.3 487.7 L1004.8 486.0 L1005.3 484.5 L1005.8 483.8 L1006.3 483.9" stroke="#000" stroke-width="8.8" fill="none" stroke-linejoin="round" stroke-linecap="round"/></svg></body></html>
